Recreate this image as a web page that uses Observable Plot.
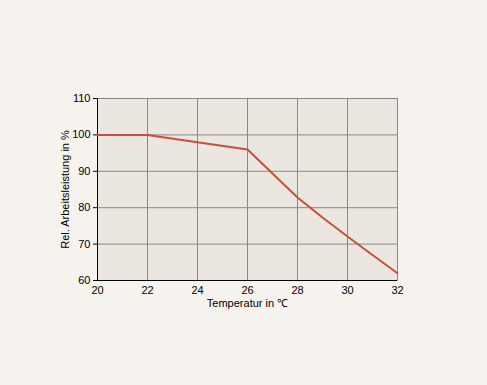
<!DOCTYPE html>
<html><head><meta charset="utf-8">
<script src="https://cdn.jsdelivr.net/npm/d3@7"></script>
<script src="https://cdn.jsdelivr.net/npm/@observablehq/plot@0.6"></script>
<style>
html,body{margin:0;padding:0;background:#f6f3ee;}
svg{font-family:"Liberation Sans",Arial,sans-serif;}
</style></head><body>
<div id="chart"></div>
<script>
const temps = [20, 22, 24, 26, 28, 29, 30, 31, 32];
const leistung = [100, 100, 98, 96, 82.8, 77.3, 72.1, 67, 62];
const xTicks = [20, 22, 24, 26, 28, 30, 32];
const yTicks = [60, 70, 80, 90, 100, 110];
const data = temps.map((t, i) => ({t, v: leistung[i]}));

const plot = Plot.plot({
  width: 487, height: 385,
  marginLeft: 97, marginRight: 90, marginTop: 98, marginBottom: 105,
  style: {background: "#f6f3ee", fontSize: "11px", color: "#000"},
  x: {domain: [20, 32]},
  y: {domain: [60, 110]},
  marks: [
    Plot.frame({fill: "#ebe6e0", stroke: "#999"}),
    Plot.gridX(xTicks, {stroke: "#888", strokeOpacity: 1}),
    Plot.gridY(yTicks, {stroke: "#888", strokeOpacity: 1}),
    Plot.axisX({ticks: xTicks, tickSize: 0, tickPadding: 6, label: "Temperatur in ℃", labelAnchor: "center", labelArrow: "none", labelOffset: 26, fontSize: 11}),
    Plot.axisY({ticks: yTicks, tickSize: 4, tickPadding: 3, label: "Rel. Arbeitsleistung in %", labelAnchor: "center", labelArrow: "none", labelOffset: 36, fontSize: 11}),
    Plot.ruleX([20], {stroke: "#000"}),
    Plot.ruleY([60], {stroke: "#000"}),
    Plot.line(data, {x: "t", y: "v", stroke: "#c8503a", strokeWidth: 2})
  ]
});
document.getElementById("chart").appendChild(plot);
</script>
</body></html>
